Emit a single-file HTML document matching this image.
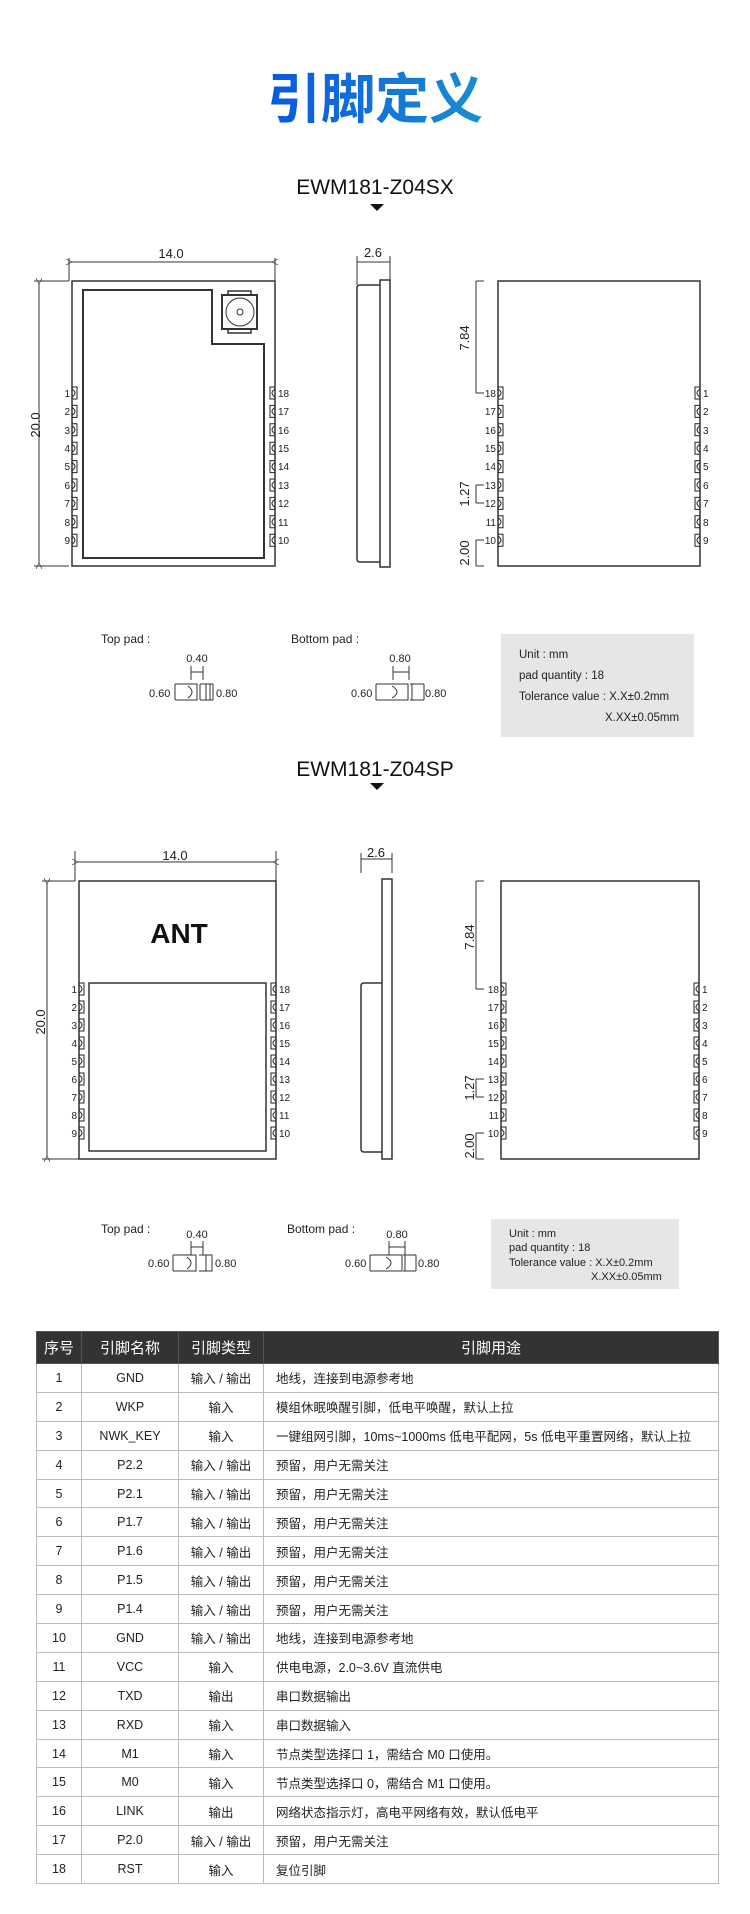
<!DOCTYPE html>
<html><head><meta charset="utf-8">
<style>
html,body{margin:0;padding:0;background:#fff;}
body{width:750px;height:1914px;position:relative;overflow:hidden;font-family:"Liberation Sans","Noto Sans CJK SC",sans-serif;}
svg{position:absolute;left:0;top:0;}
table{position:absolute;left:36px;top:1331px;width:683px;border-collapse:collapse;font-family:"Liberation Sans","Noto Sans CJK SC",sans-serif;font-size:12.5px;color:#222;}
th{background:#333;color:#fff;font-weight:normal;height:31px;font-size:15px;border:1px solid #555;padding:0;}
td{height:27.9px;border:1px solid #bbb;text-align:center;padding:0;}
td.d{text-align:left;padding-left:12px;}
</style></head><body>
<svg width="750" height="1330" viewBox="0 0 750 1330" font-family="Liberation Sans, sans-serif">
<defs>
<linearGradient id="tg" x1="0" x2="1"><stop offset="0" stop-color="#0a58e0"/><stop offset="1" stop-color="#1a8ed0"/></linearGradient>
<path id="pL" d="M0,-6H5V6H0M0,-4Q6,0 0,4" fill="none" stroke="#222" stroke-width="1"/>
<path id="pR" d="M0,-6H-5V6H0M0,-4Q-6,0 0,4" fill="none" stroke="#222" stroke-width="1"/>
<marker id="ar" viewBox="0 0 10 10" refX="0" refY="5" markerWidth="6" markerHeight="6" orient="auto-start-reverse"><path d="M10,0L0,5L10,10" fill="none" stroke="#333" stroke-width="1.2"/></marker>
</defs>
<text x="375" y="118" text-anchor="middle" font-size="54" font-weight="bold" fill="url(#tg)" font-family="Noto Sans CJK SC, sans-serif">引脚定义</text>

<!-- Section 1 -->
<text x="375" y="194" text-anchor="middle" font-size="21" fill="#111">EWM181-Z04SX</text>
<path d="M370,204H384L377,211Z" fill="#111"/>
<g stroke="#333" fill="none" stroke-width="1">
<line x1="69" y1="258" x2="69" y2="281"/><line x1="275" y1="258" x2="275" y2="281"/>
<line x1="72" y1="262" x2="272" y2="262" marker-start="url(#ar)" marker-end="url(#ar)"/>
<line x1="34" y1="281" x2="69" y2="281"/><line x1="34" y1="566" x2="69" y2="566"/>
<line x1="39" y1="284" x2="39" y2="563" marker-start="url(#ar)" marker-end="url(#ar)"/>
<rect x="72" y="281" width="203" height="285" stroke-width="1.5"/>
<path d="M83,290H212V344H264V558H83Z" stroke-width="2"/>
<rect x="222" y="295" width="35" height="34" stroke-width="2"/>
<rect x="228" y="291" width="23" height="4" stroke-width="1.5"/>
<rect x="228" y="329" width="23" height="4" stroke-width="1.5"/>
<circle cx="240" cy="312" r="14"/><circle cx="240" cy="312" r="3"/>
<!-- side -->
<line x1="357" y1="256" x2="357" y2="285"/><line x1="390" y1="256" x2="390" y2="280"/>
<line x1="357" y1="262" x2="390" y2="262"/>
<path d="M380,285H360Q357,285 357,288V559Q357,562 360,562H380" stroke-width="1.5"/>
<rect x="380" y="280" width="10" height="287" stroke-width="1.5"/>
<!-- bottom view -->
<rect x="498" y="281" width="202" height="285" stroke-width="1.5"/>
<line x1="476" y1="281" x2="484" y2="281"/><line x1="476" y1="281" x2="476" y2="393"/><line x1="476" y1="393" x2="484" y2="393"/>
<line x1="476" y1="485" x2="484" y2="485"/><line x1="476" y1="485" x2="476" y2="503"/><line x1="476" y1="503" x2="484" y2="503"/>
<line x1="476" y1="540" x2="484" y2="540"/><line x1="476" y1="540" x2="476" y2="566"/><line x1="476" y1="566" x2="484" y2="566"/>
</g>
<g font-size="13" fill="#222" text-anchor="middle">
<text x="171" y="258">14.0</text><text x="373" y="257">2.6</text>
<text transform="translate(40,425) rotate(-90)">20.0</text>
<text transform="translate(469,338) rotate(-90)">7.84</text>
<text transform="translate(469,494) rotate(-90)">1.27</text>
<text transform="translate(469,553) rotate(-90)">2.00</text>
</g>
<g>
<use href="#pL" x="72" y="393"/><use href="#pL" x="72" y="411.4"/><use href="#pL" x="72" y="429.8"/><use href="#pL" x="72" y="448.2"/><use href="#pL" x="72" y="466.6"/><use href="#pL" x="72" y="485"/><use href="#pL" x="72" y="503.4"/><use href="#pL" x="72" y="521.8"/><use href="#pL" x="72" y="540.2"/>
<use href="#pR" x="275" y="393"/><use href="#pR" x="275" y="411.4"/><use href="#pR" x="275" y="429.8"/><use href="#pR" x="275" y="448.2"/><use href="#pR" x="275" y="466.6"/><use href="#pR" x="275" y="485"/><use href="#pR" x="275" y="503.4"/><use href="#pR" x="275" y="521.8"/><use href="#pR" x="275" y="540.2"/>
<use href="#pL" x="498" y="393"/><use href="#pL" x="498" y="411.4"/><use href="#pL" x="498" y="429.8"/><use href="#pL" x="498" y="448.2"/><use href="#pL" x="498" y="466.6"/><use href="#pL" x="498" y="485"/><use href="#pL" x="498" y="503.4"/><use href="#pL" x="498" y="521.8"/><use href="#pL" x="498" y="540.2"/>
<use href="#pR" x="700" y="393"/><use href="#pR" x="700" y="411.4"/><use href="#pR" x="700" y="429.8"/><use href="#pR" x="700" y="448.2"/><use href="#pR" x="700" y="466.6"/><use href="#pR" x="700" y="485"/><use href="#pR" x="700" y="503.4"/><use href="#pR" x="700" y="521.8"/><use href="#pR" x="700" y="540.2"/>
</g>
<g font-size="10" fill="#222" text-anchor="end">
<text x="70" y="397">1</text><text x="70" y="415">2</text><text x="70" y="434">3</text><text x="70" y="452">4</text><text x="70" y="470">5</text><text x="70" y="489">6</text><text x="70" y="507">7</text><text x="70" y="526">8</text><text x="70" y="544">9</text>
<text x="496" y="397">18</text><text x="496" y="415">17</text><text x="496" y="434">16</text><text x="496" y="452">15</text><text x="496" y="470">14</text><text x="496" y="489">13</text><text x="496" y="507">12</text><text x="496" y="526">11</text><text x="496" y="544">10</text>
</g>
<g font-size="10" fill="#222">
<text x="278" y="397">18</text><text x="278" y="415">17</text><text x="278" y="434">16</text><text x="278" y="452">15</text><text x="278" y="470">14</text><text x="278" y="489">13</text><text x="278" y="507">12</text><text x="278" y="526">11</text><text x="278" y="544">10</text>
<text x="703" y="397">1</text><text x="703" y="415">2</text><text x="703" y="434">3</text><text x="703" y="452">4</text><text x="703" y="470">5</text><text x="703" y="489">6</text><text x="703" y="507">7</text><text x="703" y="526">8</text><text x="703" y="544">9</text>
</g>

<!-- pad legend 1 -->
<g font-size="12" fill="#222">
<text x="101" y="643">Top pad :</text>
<text x="291" y="643">Bottom pad :</text>
<text x="197" y="662" text-anchor="middle" font-size="11">0.40</text>
<text x="400" y="662" text-anchor="middle" font-size="11">0.80</text>
<text x="149" y="697" font-size="11">0.60</text><text x="216" y="697" font-size="11">0.80</text>
<text x="351" y="697" font-size="11">0.60</text><text x="425" y="697" font-size="11">0.80</text>
</g>
<g stroke="#333" fill="none" stroke-width="1">
<path d="M191,666V680M203,666V680M191,672H203"/>
<path d="M175,684V700M175,684H188M175,700H188M188,684H197V700H188M188,686Q196,692 188,698"/>
<path d="M200,684V700M200,684H210V700H200M206,684V700M202,684H213M202,700H213M213,684V700"/>
<path d="M393,666V680M409,666V680M393,672H409"/>
<path d="M376,684V700M376,684H390M376,700H390M390,684H408V700H390M392,686Q402,692 392,698"/>
<path d="M412,684V700M424,684V700M410,684H424M410,700H424"/>
</g>
<rect x="501" y="634" width="193" height="103" fill="#e6e6e6"/>
<g font-size="11.5" fill="#222">
<text x="519" y="658">Unit : mm</text>
<text x="519" y="679">pad quantity : 18</text>
<text x="519" y="700">Tolerance value : X.X±0.2mm</text>
<text x="605" y="721">X.XX±0.05mm</text>
</g>

<!-- Section 2 -->
<text x="375" y="776" text-anchor="middle" font-size="21" fill="#111">EWM181-Z04SP</text>
<path d="M370,783H384L377,790Z" fill="#111"/>
<g stroke="#333" fill="none" stroke-width="1">
<line x1="75" y1="851" x2="75" y2="881"/><line x1="276" y1="851" x2="276" y2="881"/>
<line x1="78" y1="862" x2="273" y2="862" marker-start="url(#ar)" marker-end="url(#ar)"/>
<line x1="42" y1="881" x2="75" y2="881"/><line x1="42" y1="1159" x2="79" y2="1159"/>
<line x1="47" y1="884" x2="47" y2="1156" marker-start="url(#ar)" marker-end="url(#ar)"/>
<rect x="79" y="881" width="197" height="278" stroke-width="1.5"/>
<rect x="89" y="983" width="177" height="168" stroke-width="1.5"/>
<line x1="361" y1="853" x2="361" y2="873"/><line x1="392" y1="853" x2="392" y2="873"/>
<line x1="361" y1="859" x2="392" y2="859"/>
<rect x="382" y="879" width="10" height="280" stroke-width="1.5"/>
<path d="M382,983H364Q361,983 361,986V1149Q361,1152 364,1152H382" stroke-width="1.5"/>
<rect x="501" y="881" width="198" height="278" stroke-width="1.5"/>
<line x1="476" y1="881" x2="484" y2="881"/><line x1="476" y1="881" x2="476" y2="989"/><line x1="476" y1="989" x2="484" y2="989"/>
<line x1="476" y1="1079" x2="484" y2="1079"/><line x1="476" y1="1079" x2="476" y2="1097"/><line x1="476" y1="1097" x2="484" y2="1097"/>
<line x1="476" y1="1133" x2="484" y2="1133"/><line x1="476" y1="1133" x2="476" y2="1159"/><line x1="476" y1="1159" x2="484" y2="1159"/>
</g>
<text x="179" y="943" text-anchor="middle" font-size="28" font-weight="bold" fill="#111">ANT</text>
<g font-size="13" fill="#222" text-anchor="middle">
<text x="175" y="860">14.0</text><text x="376" y="857">2.6</text>
<text transform="translate(45,1022) rotate(-90)">20.0</text>
<text transform="translate(474,937) rotate(-90)">7.84</text>
<text transform="translate(474,1088) rotate(-90)">1.27</text>
<text transform="translate(474,1146) rotate(-90)">2.00</text>
</g>
<g>
<use href="#pL" x="79" y="989"/><use href="#pL" x="79" y="1007"/><use href="#pL" x="79" y="1025"/><use href="#pL" x="79" y="1043"/><use href="#pL" x="79" y="1061"/><use href="#pL" x="79" y="1079"/><use href="#pL" x="79" y="1097"/><use href="#pL" x="79" y="1115"/><use href="#pL" x="79" y="1133"/>
<use href="#pR" x="276" y="989"/><use href="#pR" x="276" y="1007"/><use href="#pR" x="276" y="1025"/><use href="#pR" x="276" y="1043"/><use href="#pR" x="276" y="1061"/><use href="#pR" x="276" y="1079"/><use href="#pR" x="276" y="1097"/><use href="#pR" x="276" y="1115"/><use href="#pR" x="276" y="1133"/>
<use href="#pL" x="501" y="989"/><use href="#pL" x="501" y="1007"/><use href="#pL" x="501" y="1025"/><use href="#pL" x="501" y="1043"/><use href="#pL" x="501" y="1061"/><use href="#pL" x="501" y="1079"/><use href="#pL" x="501" y="1097"/><use href="#pL" x="501" y="1115"/><use href="#pL" x="501" y="1133"/>
<use href="#pR" x="699" y="989"/><use href="#pR" x="699" y="1007"/><use href="#pR" x="699" y="1025"/><use href="#pR" x="699" y="1043"/><use href="#pR" x="699" y="1061"/><use href="#pR" x="699" y="1079"/><use href="#pR" x="699" y="1097"/><use href="#pR" x="699" y="1115"/><use href="#pR" x="699" y="1133"/>
</g>
<g font-size="10" fill="#222" text-anchor="end">
<text x="77" y="993">1</text><text x="77" y="1011">2</text><text x="77" y="1029">3</text><text x="77" y="1047">4</text><text x="77" y="1065">5</text><text x="77" y="1083">6</text><text x="77" y="1101">7</text><text x="77" y="1119">8</text><text x="77" y="1137">9</text>
<text x="499" y="993">18</text><text x="499" y="1011">17</text><text x="499" y="1029">16</text><text x="499" y="1047">15</text><text x="499" y="1065">14</text><text x="499" y="1083">13</text><text x="499" y="1101">12</text><text x="499" y="1119">11</text><text x="499" y="1137">10</text>
</g>
<g font-size="10" fill="#222">
<text x="279" y="993">18</text><text x="279" y="1011">17</text><text x="279" y="1029">16</text><text x="279" y="1047">15</text><text x="279" y="1065">14</text><text x="279" y="1083">13</text><text x="279" y="1101">12</text><text x="279" y="1119">11</text><text x="279" y="1137">10</text>
<text x="702" y="993">1</text><text x="702" y="1011">2</text><text x="702" y="1029">3</text><text x="702" y="1047">4</text><text x="702" y="1065">5</text><text x="702" y="1083">6</text><text x="702" y="1101">7</text><text x="702" y="1119">8</text><text x="702" y="1137">9</text>
</g>

<!-- pad legend 2 -->
<g font-size="12" fill="#222">
<text x="101" y="1233">Top pad :</text>
<text x="287" y="1233">Bottom pad :</text>
<text x="197" y="1238" text-anchor="middle" font-size="11">0.40</text>
<text x="397" y="1238" text-anchor="middle" font-size="11">0.80</text>
<text x="148" y="1267" font-size="11">0.60</text><text x="215" y="1267" font-size="11">0.80</text>
<text x="345" y="1267" font-size="11">0.60</text><text x="418" y="1267" font-size="11">0.80</text>
</g>
<g stroke="#333" fill="none" stroke-width="1">
<path d="M191,1241V1255M203,1241V1255M191,1247H203"/>
<path d="M173,1255V1271M173,1255H187M173,1271H187M187,1255H196V1271H187M187,1257Q195,1263 187,1269"/>
<path d="M199,1255H212V1271H199M206,1255V1271M212,1255V1271"/>
<path d="M389,1241V1255M405,1241V1255M389,1247H405"/>
<path d="M370,1255V1271M370,1255H384M370,1271H384M384,1255H402V1271H384M386,1257Q396,1263 386,1269"/>
<path d="M405,1255V1271M416,1255V1271M403,1255H416M403,1271H416"/>
</g>
<rect x="491" y="1219" width="188" height="70" fill="#e6e6e6"/>
<g font-size="11" fill="#222">
<text x="509" y="1237">Unit : mm</text>
<text x="509" y="1251">pad quantity : 18</text>
<text x="509" y="1266">Tolerance value : X.X±0.2mm</text>
<text x="591" y="1280">X.XX±0.05mm</text>
</g>
</svg>

<table>
<colgroup><col style="width:45px"><col style="width:97px"><col style="width:85px"><col></colgroup>
<tr><th>序号</th><th>引脚名称</th><th>引脚类型</th><th>引脚用途</th></tr>
<tr><td>1</td><td>GND</td><td>输入 / 输出</td><td class="d">地线，连接到电源参考地</td></tr>
<tr><td>2</td><td>WKP</td><td>输入</td><td class="d">模组休眠唤醒引脚，低电平唤醒，默认上拉</td></tr>
<tr><td>3</td><td>NWK_KEY</td><td>输入</td><td class="d">一键组网引脚，10ms~1000ms 低电平配网，5s 低电平重置网络，默认上拉</td></tr>
<tr><td>4</td><td>P2.2</td><td>输入 / 输出</td><td class="d">预留，用户无需关注</td></tr>
<tr><td>5</td><td>P2.1</td><td>输入 / 输出</td><td class="d">预留，用户无需关注</td></tr>
<tr><td>6</td><td>P1.7</td><td>输入 / 输出</td><td class="d">预留，用户无需关注</td></tr>
<tr><td>7</td><td>P1.6</td><td>输入 / 输出</td><td class="d">预留，用户无需关注</td></tr>
<tr><td>8</td><td>P1.5</td><td>输入 / 输出</td><td class="d">预留，用户无需关注</td></tr>
<tr><td>9</td><td>P1.4</td><td>输入 / 输出</td><td class="d">预留，用户无需关注</td></tr>
<tr><td>10</td><td>GND</td><td>输入 / 输出</td><td class="d">地线，连接到电源参考地</td></tr>
<tr><td>11</td><td>VCC</td><td>输入</td><td class="d">供电电源，2.0~3.6V 直流供电</td></tr>
<tr><td>12</td><td>TXD</td><td>输出</td><td class="d">串口数据输出</td></tr>
<tr><td>13</td><td>RXD</td><td>输入</td><td class="d">串口数据输入</td></tr>
<tr><td>14</td><td>M1</td><td>输入</td><td class="d">节点类型选择口 1，需结合 M0 口使用。</td></tr>
<tr><td>15</td><td>M0</td><td>输入</td><td class="d">节点类型选择口 0，需结合 M1 口使用。</td></tr>
<tr><td>16</td><td>LINK</td><td>输出</td><td class="d">网络状态指示灯，高电平网络有效，默认低电平</td></tr>
<tr><td>17</td><td>P2.0</td><td>输入 / 输出</td><td class="d">预留，用户无需关注</td></tr>
<tr><td>18</td><td>RST</td><td>输入</td><td class="d">复位引脚</td></tr>
</table>
</body></html>
